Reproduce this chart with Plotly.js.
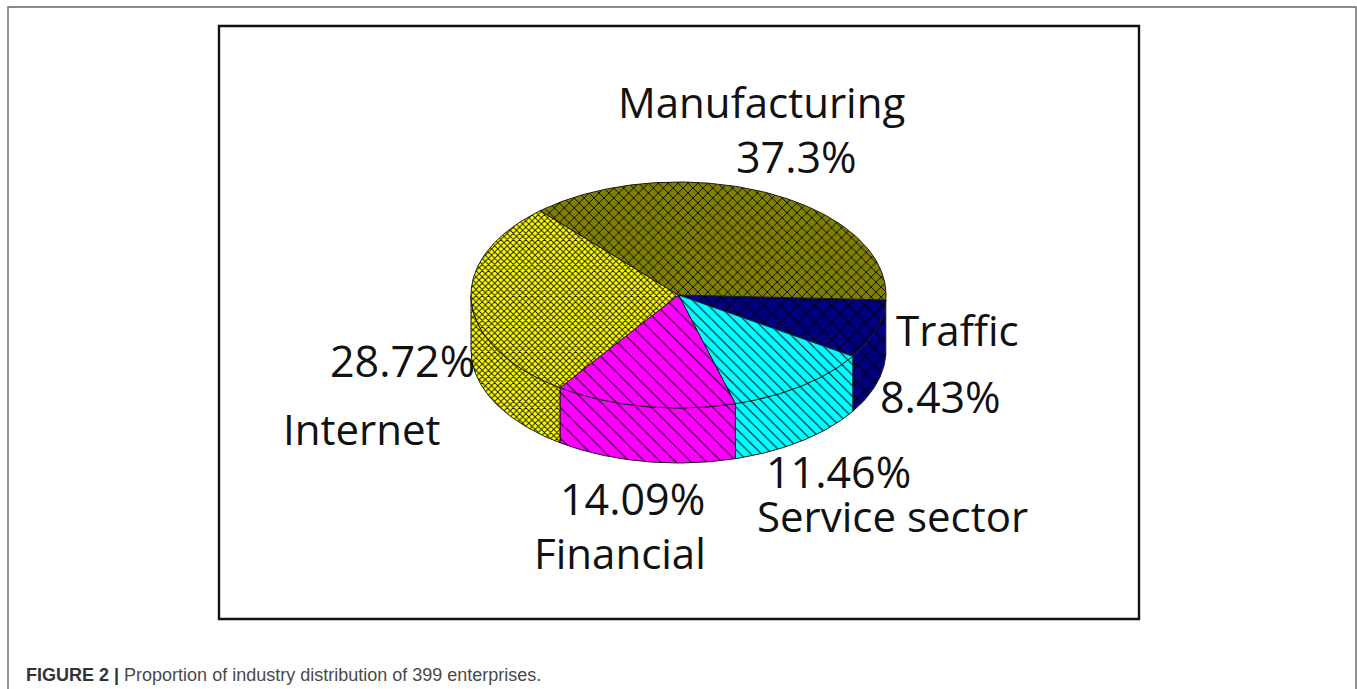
<!DOCTYPE html>
<html>
<head>
<meta charset="utf-8">
<script src="https://cdn.plot.ly/plotly-3.0.1.min.js"></script>
<style>
  html, body { margin: 0; padding: 0; background: #fff; overflow: hidden; }
  #chart { width: 1357px; height: 689px; }
</style>
</head>
<body>
<div id="chart"></div>
<script>
// Industry shares of the 399 enterprises, in drawing order (clockwise from the right).
const sectors = ['Traffic', 'Service sector', 'Financial', 'Internet', 'Manufacturing'];
const shares = [8.43, 11.46, 14.09, 28.72, 37.3];
const shareLabels = ['8.43%', '11.46%', '14.09%', '28.72%', '37.3%'];
const sectorColors = ['#000080', '#00ffff', '#ff00ff', '#ffff00', '#808000'];
const hatchShapes = ['x', '\\', '\\', 'x', 'x'];
const hatchSizes = [12, 7.5, 10.8, 4.4, 7];
const hatchSolidity = [0.18, 0.15, 0.1, 0.38, 0.26];

// Disc geometry on the page-sized axes.
const cx = 678.5, cy = 295, rx = 207.5, ry = 113, depth = 55, startDeg = 2.5;

function arc(a0, a1, dy) {
  const xs = [], ys = [];
  const n = Math.max(2, Math.ceil(Math.abs(a1 - a0)));
  for (let i = 0; i <= n; i++) {
    const t = (a0 + (a1 - a0) * i / n) * Math.PI / 180;
    xs.push(cx + rx * Math.cos(t));
    ys.push(cy + dy + ry * Math.sin(t));
  }
  return { xs, ys };
}

function hatched(i, xs, ys) {
  return {
    type: 'scatter', mode: 'lines', x: xs, y: ys, fill: 'toself',
    name: sectors[i], hoverinfo: 'skip', showlegend: false,
    fillcolor: sectorColors[i],
    fillpattern: {
      shape: hatchShapes[i], size: hatchSizes[i], solidity: hatchSolidity[i],
      bgcolor: sectorColors[i], fgcolor: '#000000', fgopacity: 0.9
    },
    line: { color: '#1a1a1a', width: 1 }
  };
}

const walls = [], tops = [];
let running = startDeg;
shares.forEach((share, i) => {
  const a0 = running, a1 = running + share * 3.6;
  running = a1;
  tops.push(hatched(i,
    [cx, ...arc(a0, a1, 0).xs, cx],
    [cy, ...arc(a0, a1, 0).ys, cy]));
  // Only the front half of the disc shows its side wall.
  const w0 = Math.max(a0, 0), w1 = Math.min(a1, 180);
  if (w1 > w0) {
    const upper = arc(w0, w1, 0), lower = arc(w1, w0, depth);
    walls.push(hatched(i,
      [...upper.xs, ...lower.xs, upper.xs[0]],
      [...upper.ys, ...lower.ys, upper.ys[0]]));
  }
});

const labelFamily = '"Open Sans", "Noto Sans", sans-serif';
function label(text, x, y, size) {
  return { text, x, y, xref: 'x', yref: 'y', xanchor: 'center', yanchor: 'middle',
           showarrow: false, font: { family: labelFamily, size, color: '#111111' } };
}

const annotations = [
  label(sectors[4], 761, 101.5, 42), label(shareLabels[4], 796, 156.5, 43),
  label(sectors[0], 957, 329.5, 42), label(shareLabels[0], 940, 396.5, 43),
  label(shareLabels[1], 838, 471.5, 43), label(sectors[1], 892, 515.5, 42),
  label(shareLabels[2], 632, 498.5, 43), label(sectors[2], 620, 552.5, 42),
  label(shareLabels[3], 402, 360.5, 43), label(sectors[3], 362, 428.5, 42),
  {
    text: '<b>FIGURE 2 |</b> <span style="color:#4a4a4a">Proportion of industry distribution of 399 enterprises.</span>',
    x: 24, y: 675, xref: 'x', yref: 'y', xanchor: 'left', yanchor: 'middle',
    showarrow: false,
    font: { family: '"Liberation Sans", Arial, sans-serif', size: 18, color: '#333333' }
  }
];

const shapes = [
  { type: 'rect', xref: 'x', yref: 'y', x0: 219, y0: 26, x1: 1139, y1: 619,
    line: { color: '#111111', width: 2.4 } },
  { type: 'path', xref: 'x', yref: 'y', path: 'M 8 689 L 8 7 L 1356 7 L 1356 689',
    line: { color: '#666666', width: 1.4 } }
];

Plotly.newPlot('chart', [...walls, ...tops], {
  width: 1357, height: 689,
  margin: { l: 0, r: 0, t: 0, b: 0 },
  paper_bgcolor: '#ffffff', plot_bgcolor: '#ffffff',
  xaxis: { range: [0, 1357], visible: false, fixedrange: true },
  yaxis: { range: [689, 0], visible: false, fixedrange: true },
  annotations, shapes, showlegend: false
}, { displayModeBar: false, staticPlot: true });
</script>
</body>
</html>
